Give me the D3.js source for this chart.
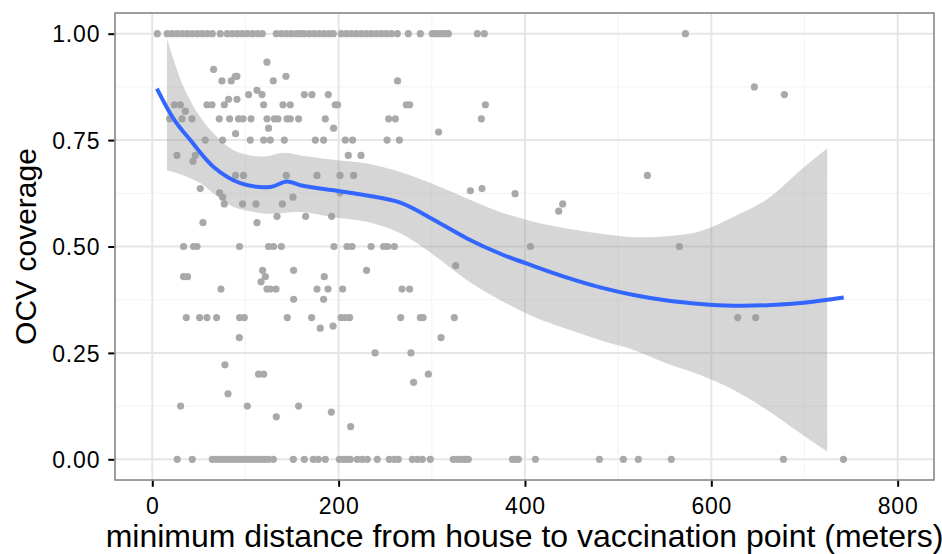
<!DOCTYPE html>
<html>
<head>
<meta charset="utf-8">
<script src="https://cdn.jsdelivr.net/npm/d3@7"></script>
<style>
  body { margin: 0; background: #fff; }
  svg text { font-family: "Liberation Sans", Arial, Helvetica, sans-serif; }
</style>
</head>
<body>
<svg width="942" height="554"></svg>
<script>
// households at full coverage (y = 1)
const fullX = [5.4, 16.1, 21.5, 26.8, 32.2, 37.6, 42.9, 48.3, 53.7, 59.0, 64.4, 73.0, 80.5, 85.9,
  91.2, 96.6, 102, 107.4, 112.7, 118.1, 133.1, 138.5, 143.8, 149.2, 154.6, 158.9, 163.2, 168.5,
  173.9, 179.3, 184.6, 190, 194.3, 202.9, 208.3, 213.6, 219, 224.4, 229.7, 235.1, 240.5, 245.8,
  251.2, 256.6, 263, 274.8, 287.7, 300.6, 304.9, 309.2, 313.5, 317.8, 348.9, 356.4, 572.2];

// households at zero coverage (y = 0)
const zeroX = [26.8, 42.9, 64.4, 68.7, 73, 77.3, 81.6, 85.9, 90.2, 94.5, 98.8, 103.1, 107.4, 111.6,
  115.9, 120.2, 124.5, 129.9, 151.4, 163.2, 172.8, 178.2, 185.7, 200.7, 205, 209.3, 212.6, 220.1,
  225.4, 230.8, 241.5, 254.4, 259.8, 264.1, 279.1, 284.5, 289.9, 298.4, 323.1, 327.4, 331.7, 336,
  339.2, 386.5, 389.7, 392.9, 411.2, 479.9, 505.6, 521.7, 557.1, 677.4, 741.8];

// households at partial coverage: [distance, coverage]
const partial = [
  [65.8, 0.916], [74.8, 0.889], [84.8, 0.889], [89.1, 0.9], [90.9, 0.9], [123.1, 0.933],
  [129.9, 0.889], [143.5, 0.9], [263.3, 0.889], [23.6, 0.833], [30.1, 0.833], [35.4, 0.818],
  [18.6, 0.8], [31.9, 0.8], [42.6, 0.8], [58.7, 0.833], [64.1, 0.833], [77.3, 0.833],
  [81.9, 0.846], [90.9, 0.846], [103.4, 0.857], [112.4, 0.867], [117.8, 0.857], [119.5, 0.833],
  [140.3, 0.833], [148.1, 0.833], [163.2, 0.857], [171.4, 0.857], [188.9, 0.857], [196.4, 0.833],
  [198.9, 0.833], [272.7, 0.833], [276.2, 0.833], [71.9, 0.8], [83, 0.8], [92.6, 0.8],
  [97.4, 0.8], [106, 0.8], [123.1, 0.8], [131, 0.8], [134.9, 0.8], [144.6, 0.8], [148.1, 0.8],
  [157, 0.8], [124.8, 0.778], [185.7, 0.8], [194.6, 0.778], [253.7, 0.8], [260.9, 0.8],
  [89.4, 0.765], [56.9, 0.75], [75.5, 0.75], [105.2, 0.75], [119.5, 0.75], [126.7, 0.75],
  [141.7, 0.75], [175, 0.75], [183.9, 0.75], [207.2, 0.75], [215, 0.75], [252, 0.75],
  [265.2, 0.75], [26.5, 0.714], [46.2, 0.714], [43.7, 0.7], [210.4, 0.714], [224, 0.714],
  [89.4, 0.667], [98, 0.667], [143.8, 0.667], [176.8, 0.667], [201.5, 0.667], [216.1, 0.667],
  [51.5, 0.636], [72.2, 0.626], [75.5, 0.616], [151, 0.616], [201.5, 0.626],
  [357.5, 0.833], [353.2, 0.8], [307.3, 0.769], [531.4, 0.667], [341.4, 0.631], [353.9, 0.636],
  [389.4, 0.624], [646.2, 0.875], [678.4, 0.857],
  [77.3, 0.6], [96.9, 0.6], [111.3, 0.6], [139.6, 0.6], [133.9, 0.571], [164.6, 0.571],
  [192.5, 0.571], [54.4, 0.556], [112.4, 0.556],
  [33.6, 0.5], [44.3, 0.5], [48, 0.5], [93.7, 0.5], [124.8, 0.5], [130.2, 0.5], [138.5, 0.5],
  [195, 0.5], [209, 0.5], [214.4, 0.5], [234.8, 0.5], [248.3, 0.5], [252.6, 0.5], [259.8, 0.5],
  [405.8, 0.5], [565.7, 0.5],
  [118.4, 0.444], [151.7, 0.444], [230, 0.444], [33.6, 0.429], [37.9, 0.429], [121.3, 0.429],
  [116.7, 0.417], [184.6, 0.429],
  [73.7, 0.4], [123.1, 0.4], [126.7, 0.4], [132.8, 0.4], [176.8, 0.4], [188.6, 0.4],
  [204.3, 0.4], [268.1, 0.4], [276.2, 0.4],
  [151.7, 0.376], [183.9, 0.376],
  [36.5, 0.333], [50.8, 0.333], [58.7, 0.333], [69, 0.333], [93.7, 0.333], [98.8, 0.333],
  [144.9, 0.333], [171, 0.333], [202.6, 0.333], [207.2, 0.333], [211.8, 0.333], [266.6, 0.333],
  [287.7, 0.333], [290.6, 0.333], [324.2, 0.333], [628.3, 0.333], [647.6, 0.333],
  [180.3, 0.308], [194, 0.313], [93.4, 0.286], [309.9, 0.286], [440.5, 0.6], [436.2, 0.583],
  [325.6, 0.455], [239.1, 0.25], [277.7, 0.25], [78, 0.222], [280.5, 0.181], [114.1, 0.2],
  [119.5, 0.2], [296.3, 0.2], [81.3, 0.154], [30.4, 0.125], [102, 0.125], [133.1, 0.1],
  [157, 0.125], [192.2, 0.111], [212.9, 0.077]
];

// loess fit
const fitX = [5, 22.9, 40.8, 65.8, 94.5, 126.7, 144.6, 158.9, 194.6, 230.4, 266.2, 302,
  337.8, 373.6, 409.3, 445.2, 480.9, 516.7, 552.5, 588.3, 624, 659.9, 695.6, 742.1];
const fitY = [0.871, 0.8, 0.75, 0.687, 0.649, 0.64, 0.653, 0.644, 0.632, 0.62, 0.603,
  0.563, 0.519, 0.483, 0.454, 0.427, 0.404, 0.386, 0.373, 0.365, 0.361, 0.362, 0.367, 0.38];

// confidence band
const bandX = [15.8, 33.6, 51.5, 69.5, 87.3, 105.2, 123.1, 141, 158.9, 194.6, 230.4, 266.2, 302,
  337.8, 373.6, 409.3, 445.2, 480.9, 516.7, 552.5, 588.3, 624, 659.9, 695.6, 724.3];
const bandHi = [0.988, 0.875, 0.804, 0.757, 0.726, 0.714, 0.712, 0.72, 0.714, 0.704, 0.695,
  0.675, 0.646, 0.613, 0.581, 0.558, 0.542, 0.53, 0.522, 0.524, 0.536, 0.57, 0.611, 0.679, 0.73];
const bandLo = [0.679, 0.667, 0.649, 0.618, 0.593, 0.583, 0.577, 0.579, 0.581, 0.569, 0.558,
  0.531, 0.48, 0.421, 0.374, 0.335, 0.306, 0.28, 0.257, 0.225, 0.198, 0.163, 0.116, 0.061, 0.018];

const xTicks = [0, 200, 400, 600, 800];
const xMinor = [100, 300, 500, 700];
const yTicks = [0, 0.25, 0.5, 0.75, 1];
const yMinor = [0.125, 0.375, 0.625, 0.875];

const svg = d3.select("svg");
const panel = { left: 115, top: 13, right: 934, bottom: 480 };

const x = d3.scaleLinear().domain([-40, 839]).range([panel.left, panel.right]);
const y = d3.scaleLinear().domain([-0.0486, 1.0486]).range([panel.bottom, panel.top]);

// grid lines
const grid = svg.append("g");
grid.selectAll(".xminor").data(xMinor).enter().append("line")
    .attr("x1", d => x(d)).attr("x2", d => x(d))
    .attr("y1", panel.top).attr("y2", panel.bottom)
    .attr("stroke", "#f5f5f5").attr("stroke-width", 1.2);
grid.selectAll(".yminor").data(yMinor).enter().append("line")
    .attr("y1", d => y(d)).attr("y2", d => y(d))
    .attr("x1", panel.left).attr("x2", panel.right)
    .attr("stroke", "#f5f5f5").attr("stroke-width", 1.2);
grid.selectAll(".xmajor").data(xTicks).enter().append("line")
    .attr("x1", d => x(d)).attr("x2", d => x(d))
    .attr("y1", panel.top).attr("y2", panel.bottom)
    .attr("stroke", "#e6e6e6").attr("stroke-width", 2);
grid.selectAll(".ymajor").data(yTicks).enter().append("line")
    .attr("y1", d => y(d)).attr("y2", d => y(d))
    .attr("x1", panel.left).attr("x2", panel.right)
    .attr("stroke", "#e6e6e6").attr("stroke-width", 2);

// points
const pts = fullX.map(d => [d, 1])
    .concat(zeroX.map(d => [d, 0]))
    .concat(partial);

svg.append("g").selectAll("circle")
    .data(pts)
    .enter()
    .append("circle")
    .attr("cx", d => x(d[0]))
    .attr("cy", d => y(d[1]))
    .attr("r", 3.6)
    .style("fill", "#a9a9a9");

// confidence ribbon
const band = bandX.map((d, i) => ({ x: d, lo: bandLo[i], hi: bandHi[i] }));
svg.append("path")
    .datum(band)
    .attr("d", d3.area()
        .x(d => x(d.x))
        .y0(d => y(d.lo))
        .y1(d => y(d.hi))
        .curve(d3.curveCatmullRom))
    .attr("fill", "#999999")
    .attr("fill-opacity", 0.4);

// smooth line
const fit = fitX.map((d, i) => [d, fitY[i]]);
svg.append("path")
    .datum(fit)
    .attr("d", d3.line()
        .x(d => x(d[0]))
        .y(d => y(d[1]))
        .curve(d3.curveCatmullRom))
    .attr("fill", "none")
    .attr("stroke", "#3366ff")
    .attr("stroke-width", 4)
    .attr("stroke-linejoin", "round");

// panel border
svg.append("rect")
    .attr("x", panel.left).attr("y", panel.top)
    .attr("width", panel.right - panel.left)
    .attr("height", panel.bottom - panel.top)
    .attr("fill", "none")
    .attr("stroke", "#7f7f7f")
    .attr("stroke-width", 1.5);

// axes
const xAxis = svg.append("g")
    .attr("transform", `translate(0,${panel.bottom + 0.75})`)
    .call(d3.axisBottom(x).tickValues(xTicks).tickSize(6).tickPadding(11).tickFormat(d3.format("d")));
const yAxis = svg.append("g")
    .attr("transform", `translate(${panel.left - 0.75},0)`)
    .call(d3.axisLeft(y).tickValues(yTicks).tickSize(6).tickPadding(8).tickFormat(d3.format(".2f")));

[xAxis, yAxis].forEach(ax => {
    ax.select(".domain").remove();
    ax.selectAll(".tick line").attr("stroke", "#000").attr("stroke-width", 2);
    ax.selectAll(".tick text")
        .attr("fill", "#000")
        .style("font-size", "23px")
        .style("letter-spacing", "0.8px")
        .style("font-family", "'Liberation Sans', Arial, sans-serif");
});
yAxis.selectAll(".tick text").attr("dy", "0.36em");

// axis titles
svg.append("text")
    .attr("x", (panel.left + panel.right) / 2)
    .attr("y", 547)
    .attr("text-anchor", "middle")
    .style("font-size", "32px")
    .text("minimum distance from house to vaccination point (meters)");

svg.append("text")
    .attr("transform", `translate(36,${(panel.top + panel.bottom) / 2}) rotate(-90)`)
    .attr("text-anchor", "middle")
    .style("font-size", "30px")
    .text("OCV coverage");
</script>
</body>
</html>
